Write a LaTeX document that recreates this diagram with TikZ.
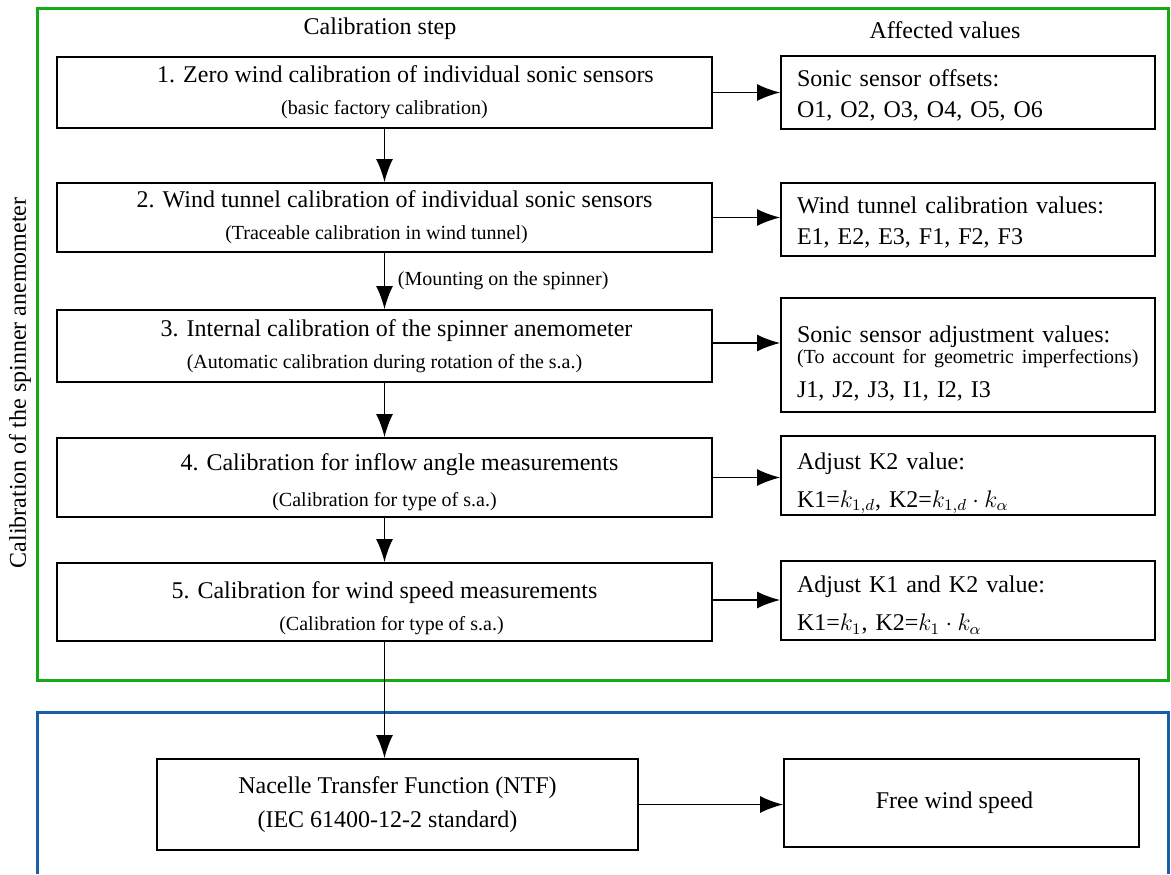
\documentclass[tikz,border=0pt]{standalone}
\usepackage{fontspec}
\setmainfont{Liberation Serif}
\usepackage{amsmath}
\usetikzlibrary{positioning,arrows.meta}
\definecolor{framegreen}{RGB}{20,170,20}
\definecolor{frameblue}{RGB}{25,95,165}
\tikzstyle{stepbox}=[draw, line width=1pt, minimum width=327.5pt, align=center, inner sep=0pt, font=\fontsize{12}{16}\selectfont]
\tikzstyle{valbox}=[draw, line width=1pt, text width=171pt, align=left, inner xsep=8pt, inner ysep=0pt, font=\fontsize{12}{15.5}\selectfont]
\tikzstyle{arr}=[-{Latex[length=11.5pt,width=8.5pt]}, line width=0.7pt]
\newcommand{\subtxt}[1]{{\fontsize{10}{12}\selectfont #1}}
\newcommand{\lift}[1]{\rule{0pt}{#1}}

\begin{document}
\begin{tikzpicture}[x=0.5pt, y=-0.5pt]
        \useasboundingbox (0,0) rectangle (1171,874);
        \draw[framegreen, line width=1.5pt] (37,8) rectangle (1168,680);
        \draw[frameblue, line width=1.5pt] (37,874) -- (37,712) -- (1168,712) -- (1168,874);

        \node[font=\fontsize{12}{14}\selectfont] (hstep) at (380,29) {Calibration step};
        \node[font=\fontsize{12}{14}\selectfont] (hval) at (945,30) {Affected values};
        \node[rotate=90, font=\fontsize{12}{14}\selectfont] (side) at (20,383) {Calibration of the spinner anemometer};

        \node[stepbox, minimum height=35.5pt] (s1) at (384.5,92.5) {\hspace*{21pt}1. Zero wind calibration of individual sonic sensors\\ \subtxt{(basic factory calibration)}};
        \node[stepbox, minimum height=34.5pt] (s2) at (384.5,217.5) {\hspace*{10pt}2. Wind tunnel calibration of individual sonic sensors\\ \hspace*{-8pt}\subtxt{(Traceable calibration in wind tunnel)}};
        \node[stepbox, minimum height=36pt] (s3) at (384.5,346) {\hspace*{12pt}3. Internal calibration of the spinner anemometer\\ \subtxt{(Automatic calibration during rotation of the s.a.)}};
        \node[stepbox, minimum height=39.5pt] (s4) at (384.5,477.5) {\hspace*{15pt}\lift{13.2pt}4. Calibration for inflow angle measurements\\[2pt] \subtxt{(Calibration for type of s.a.)}};
        \node[stepbox, minimum height=39pt] (s5) at (384.5,602) {\lift{14.2pt}5. Calibration for wind speed measurements\\ \hspace*{7pt}\subtxt{(Calibration for type of s.a.)}};

        \node[valbox, minimum height=36.5pt] (v1) at (968,92.5) {\lift{11.2pt}Sonic sensor offsets:\\ O1, O2, O3, O4, O5, O6};
        \node[valbox, minimum height=36.5pt] (v2) at (968,219.5) {\lift{11.2pt}Wind tunnel calibration values:\\ E1, E2, E3, F1, F2, F3};
        \node[valbox, minimum height=57pt] (v3) at (968,355) {\lift{17.2pt}Sonic sensor adjustment values:\\[-5pt] \subtxt{(To account for geometric imperfections)}\\[1.5pt] J1, J2, J3, I1, I2, I3};
        \node[valbox, minimum height=39.5pt] (v4) at (968,475.5) {\lift{16.2pt}Adjust K2 value:\\[3.5pt] K1=$k_{1,d}$, K2=$k_{1,d}\cdot k_\alpha$};
        \node[valbox, minimum height=39.5pt] (v5) at (968,600.5) {\lift{13.2pt}Adjust K1 and K2 value:\\[3.5pt] K1=$k_{1}$, K2=$k_{1}\cdot k_\alpha$};

        \node[stepbox, minimum width=240.5pt, minimum height=45.5pt] (ntf) at (397.5,804.5) {Nacelle Transfer Function (NTF)\\[1pt] \hspace*{-10pt}(IEC 61400-12-2 standard)};
        \node[stepbox, minimum width=177.5pt, minimum height=44pt] (free) at (961.5,803) {\hspace*{-7pt}Free wind speed};

        \draw[arr] (s1) -- (s2);
        \draw[arr] (s2) -- node[right, font=\fontsize{10}{12}\selectfont, xshift=3pt] {(Mounting on the spinner)} (s3);
        \draw[arr] (s3) -- (s4);
        \draw[arr] (s4) -- (s5);
        \draw[arr] (s5.south) -- (s5.south |- ntf.north);

        \draw[arr] (s1.east) -- (s1.east -| v1.west);
        \draw[arr] (s2.east) -- (s2.east -| v2.west);
        \draw[arr] ([yshift=1.5pt]s3.east) -- ([yshift=1.5pt]s3.east -| v3.west);
        \draw[arr] (s4.east) -- (s4.east -| v4.west);
        \draw[arr] ([yshift=1pt]s5.east) -- ([yshift=1pt]s5.east -| v5.west);
        \draw[arr] (ntf.east) -- (ntf.east -| free.west);
    \end{tikzpicture}
\end{document}
